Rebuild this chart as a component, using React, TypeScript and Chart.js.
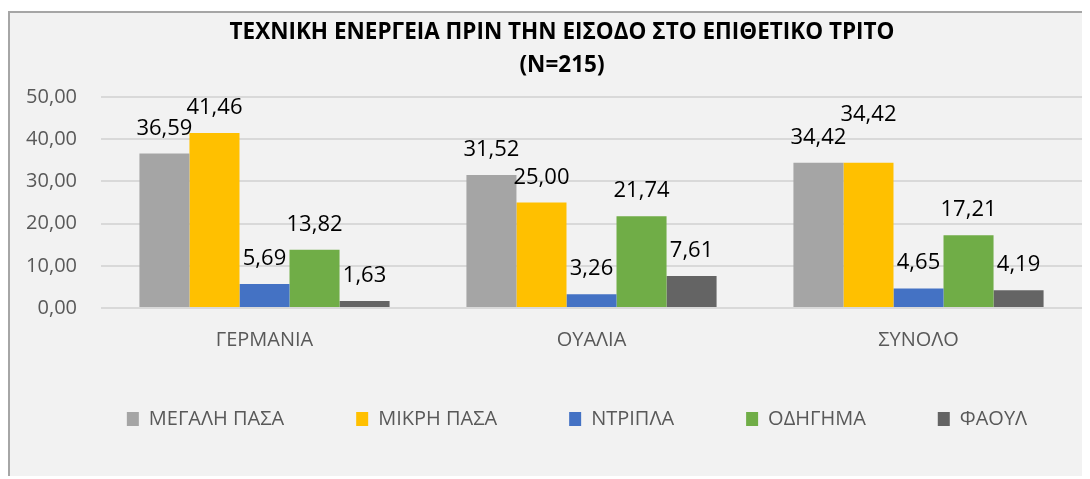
import React, { useEffect, useRef } from "react";
import { Chart, registerables } from "chart.js";

Chart.register(...registerables);

const FONT = "'Open Sans', 'Noto Sans', sans-serif";

const titleLines = ["ΤΕΧΝΙΚΗ ΕΝΕΡΓΕΙΑ ΠΡΙΝ ΤΗΝ ΕΙΣΟΔΟ ΣΤΟ ΕΠΙΘΕΤΙΚΟ ΤΡΙΤΟ", "(N=215)"];
const categories = ["ΓΕΡΜΑΝΙΑ", "ΟΥΑΛΙΑ", "ΣΥΝΟΛΟ"];
const seriesNames = ["ΜΕΓΑΛΗ ΠΑΣΑ", "ΜΙΚΡΗ ΠΑΣΑ", "ΝΤΡΙΠΛΑ", "ΟΔΗΓΗΜΑ", "ΦΑΟΥΛ"];
const megaliPasa = [36.59, 31.52, 34.42];
const mikriPasa = [41.46, 25.0, 34.42];
const ntripla = [5.69, 3.26, 4.65];
const odigima = [13.82, 21.74, 17.21];
const faoul = [1.63, 7.61, 4.19];
const seriesColors = ["#a5a5a5", "#ffc000", "#4472c4", "#70ad47", "#646464"];
const yMin = 0;
const yMax = 50;
const yStep = 10;

const fmt = (v: number) => v.toFixed(2).replace(".", ",");

const valueLabels = {
  id: "valueLabels",
  afterDatasetsDraw(chart: any) {
    const ctx = chart.ctx;
    ctx.save();
    ctx.font = `22px ${FONT}`;
    ctx.fillStyle = "#000000";
    ctx.textAlign = "center";
    ctx.textBaseline = "alphabetic";
    const placed: { l: number; r: number; t: number; b: number }[] = [];
    const H = 17;
    const GAP = 6;
    const nCat = chart.data.labels.length;
    for (let c = 0; c < nCat; c++) {
      chart.data.datasets.forEach((ds: any, i: number) => {
        const meta = chart.getDatasetMeta(i);
        const el = meta.data[c];
        if (!el) return;
        const text = fmt(ds.data[c]);
        const w = ctx.measureText(text).width;
        let base = el.y - 19;
        let moved = true;
        let guard = 0;
        while (moved && guard < 20) {
          moved = false;
          guard++;
          for (const p of placed) {
            if (el.x - w / 2 < p.r && el.x + w / 2 > p.l && base - H < p.b && base > p.t) {
              base = p.t - GAP;
              moved = true;
            }
          }
        }
        placed.push({ l: el.x - w / 2, r: el.x + w / 2, t: base - H, b: base });
        ctx.fillText(text, el.x, base);
      });
    }
    ctx.restore();
  },
};

// Centre the title and the legend where the reference has them.
const shiftBlocks = {
  id: "shiftBlocks",
  afterLayout(chart: any) {
    if (chart.titleBlock) {
      chart.titleBlock.left += 16;
      chart.titleBlock.right += 16;
    }
    if (chart.legend) {
      chart.legend.left += 31;
      chart.legend.right += 31;
      chart.legend.top -= 12;
      chart.legend.bottom -= 12;
    }
  },
};

export default function App() {
  const ref = useRef<HTMLCanvasElement | null>(null);

  useEffect(() => {
    document.documentElement.style.overflow = "hidden";
    document.body.style.overflow = "hidden";
    if (!ref.current) return;
    const seriesData = [megaliPasa, mikriPasa, ntripla, odigima, faoul];
    const chart = new Chart(ref.current, {
      type: "bar",
      data: {
        labels: categories,
        datasets: seriesNames.map((name, i) => ({
          label: name,
          data: seriesData[i],
          backgroundColor: seriesColors[i],
          borderWidth: 0,
          categoryPercentage: 0.765,
          barPercentage: 1.0,
        })),
      },
      options: {
        responsive: false,
        animation: false,
        layout: { padding: { left: 0, right: 8, top: 0, bottom: 30 } },
        plugins: {
          title: {
            display: true,
            text: titleLines,
            color: "#000000",
            font: { family: FONT, size: 22.5, weight: "bold", lineHeight: 1.4667 },
            padding: { top: 3, bottom: 15 },
          },
          legend: {
            display: true,
            position: "bottom",
            maxHeight: 100,
            labels: {
              color: "#595959",
              font: { family: FONT, size: 20 },
              boxWidth: 12,
              boxHeight: 14,
              padding: 72,
            },
          },
          tooltip: { enabled: false },
        },
        scales: {
          x: {
            grid: { display: false },
            border: { display: false },
            ticks: {
              color: "#595959",
              font: { family: FONT, size: 20 },
              padding: 12,
            },
            afterFit: (scale: any) => {
              scale.height = 41;
            },
          },
          y: {
            min: yMin,
            max: yMax,
            grid: { color: "#d9d9d9", lineWidth: 2, drawTicks: false },
            border: { display: false },
            ticks: {
              stepSize: yStep,
              color: "#595959",
              font: { family: FONT, size: 20 },
              padding: 24,
              callback: (v: any) => fmt(Number(v)),
            },
            afterFit: (scale: any) => {
              scale.width = 91;
            },
          },
        },
      },
      plugins: [valueLabels, shiftBlocks],
    });
    return () => chart.destroy();
  }, []);

  return (
    <div
      style={{
        position: "relative",
        top: 3,
        width: 1080,
        height: 466,
        borderLeft: "2px solid #a6a6a6",
        borderTop: "2px solid #a6a6a6",
        background: "#f2f2f2",
      }}
    >
      <canvas ref={ref} width={1080} height={466} style={{ display: "block" }} />
    </div>
  );
}
